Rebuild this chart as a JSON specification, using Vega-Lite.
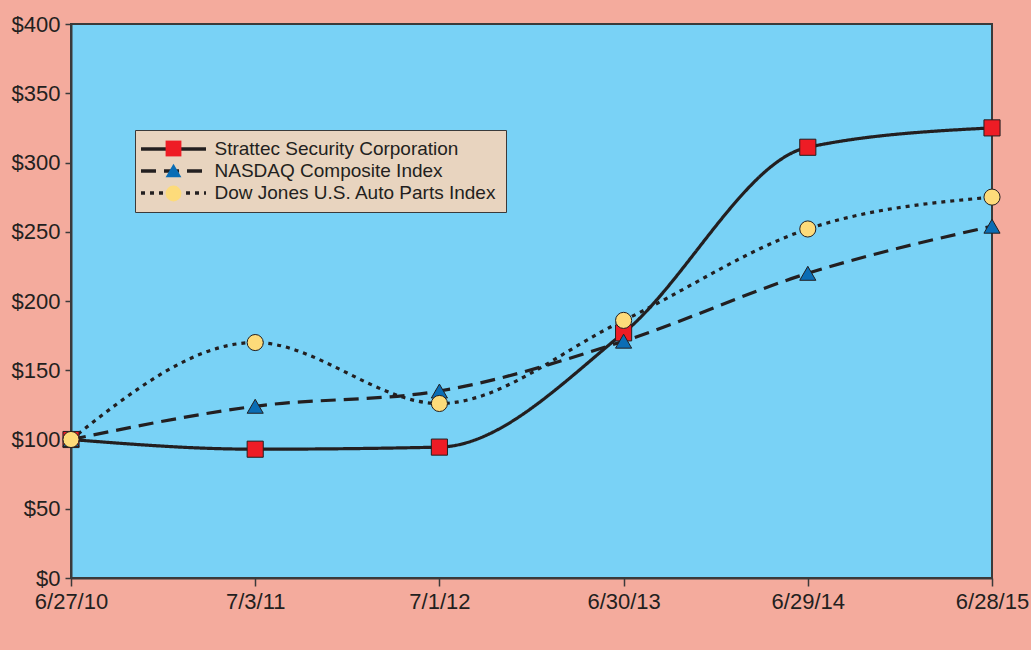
{
  "$schema": "https://vega.github.io/schema/vega-lite/v6.json",
  "width": 921,
  "height": 554,
  "autosize": {"type": "none"},
  "padding": {"left": 71, "top": 24, "right": 39, "bottom": 72},
  "background": "#f4ab9d",
  "config": {
    "font": "Liberation Sans",
    "view": {"fill": "#79d2f6", "stroke": "#3a3a3a", "strokeWidth": 2},
    "axis": {"grid": false, "title": null, "domainColor": "#3a3a3a", "domainWidth": 2, "tickColor": "#3a3a3a", "tickWidth": 1.5, "labelColor": "#231f20", "labelFontSize": 22, "labelFont": "Liberation Sans"}
  },
  "data": {"values": [
    {"date": "6/27/10", "series": "Strattec Security Corporation", "value": 100},
    {"date": "7/3/11", "series": "Strattec Security Corporation", "value": 93},
    {"date": "7/1/12", "series": "Strattec Security Corporation", "value": 94.5},
    {"date": "6/30/13", "series": "Strattec Security Corporation", "value": 177},
    {"date": "6/29/14", "series": "Strattec Security Corporation", "value": 311},
    {"date": "6/28/15", "series": "Strattec Security Corporation", "value": 325},
    {"date": "6/27/10", "series": "NASDAQ Composite Index", "value": 100},
    {"date": "7/3/11", "series": "NASDAQ Composite Index", "value": 124},
    {"date": "7/1/12", "series": "NASDAQ Composite Index", "value": 135},
    {"date": "6/30/13", "series": "NASDAQ Composite Index", "value": 171},
    {"date": "6/29/14", "series": "NASDAQ Composite Index", "value": 220},
    {"date": "6/28/15", "series": "NASDAQ Composite Index", "value": 254},
    {"date": "6/27/10", "series": "Dow Jones U.S. Auto Parts Index", "value": 100},
    {"date": "7/3/11", "series": "Dow Jones U.S. Auto Parts Index", "value": 170},
    {"date": "7/1/12", "series": "Dow Jones U.S. Auto Parts Index", "value": 126},
    {"date": "6/30/13", "series": "Dow Jones U.S. Auto Parts Index", "value": 186},
    {"date": "6/29/14", "series": "Dow Jones U.S. Auto Parts Index", "value": 252},
    {"date": "6/28/15", "series": "Dow Jones U.S. Auto Parts Index", "value": 275}
  ]},
  "encoding": {
    "x": {"field": "date", "type": "ordinal", "sort": null,
      "scale": {"type": "point", "padding": 0},
      "axis": {"labelAngle": 0, "tickSize": 8, "labelPadding": 5}},
    "y": {"field": "value", "type": "quantitative",
      "scale": {"domain": [0, 400], "nice": false},
      "axis": {"values": [0, 50, 100, 150, 200, 250, 300, 350, 400], "labelExpr": "'$' + datum.value", "tickSize": 6, "labelPadding": 5}}
  },
  "layer": [
    {
      "mark": {"type": "line", "interpolate": "monotone", "stroke": "#231f20", "strokeWidth": 3.2, "strokeCap": "butt"},
      "encoding": {
        "strokeDash": {"field": "series", "type": "nominal",
          "sort": ["Strattec Security Corporation", "NASDAQ Composite Index", "Dow Jones U.S. Auto Parts Index"],
          "scale": {"range": [[1, 0], [15, 8], [4, 5]]},
          "legend": {"title": null, "orient": "none", "legendX": 64, "legendY": 106, "padding": 9,
            "fillColor": "#e8d4bf", "strokeColor": "#3a3a3a",
            "symbolType": "M-4,0H4", "symbolSize": 264, "symbolStrokeWidth": 3.5, "symbolStrokeColor": "#231f20",
            "symbolOffset": 19.5,
            "labelFontSize": 19, "labelColor": "#231f20", "labelOffset": 31, "rowPadding": 2, "labelLimit": 400}}
      }
    },
    {
      "mark": {"type": "point", "filled": true, "size": 260, "stroke": "#231f20", "strokeWidth": 1, "opacity": 1},
      "encoding": {
        "shape": {"field": "series", "type": "nominal",
          "scale": {"domain": ["Strattec Security Corporation", "NASDAQ Composite Index", "Dow Jones U.S. Auto Parts Index"], "range": ["square", "triangle-up", "circle"]},
          "legend": {"title": null, "orient": "none", "legendX": 64, "legendY": 106, "padding": 9,
            "symbolSize": 250, "symbolStrokeColor": "#231f20", "symbolStrokeWidth": 1, "symbolOpacity": 1, "symbolOffset": 20,
            "labelFontSize": 19, "labelOpacity": 0, "labelOffset": 31, "rowPadding": 2, "labelLimit": 400}},
        "fill": {"field": "series", "type": "nominal",
          "scale": {"domain": ["Strattec Security Corporation", "NASDAQ Composite Index", "Dow Jones U.S. Auto Parts Index"], "range": ["#ee1c25", "#0a6db5", "#fddb7a"]},
          "legend": {"title": null, "orient": "none", "legendX": 64, "legendY": 106, "padding": 9,
            "symbolSize": 250, "symbolStrokeColor": "#231f20", "symbolStrokeWidth": 1, "symbolOpacity": 1, "symbolOffset": 20,
            "labelFontSize": 19, "labelOpacity": 0, "labelOffset": 31, "rowPadding": 2, "labelLimit": 400}}
      }
    }
  ]
}
